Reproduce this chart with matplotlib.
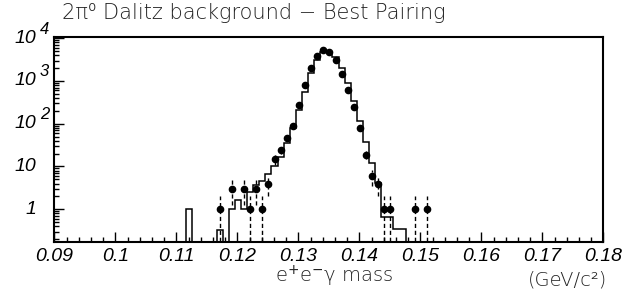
import numpy as np
import matplotlib
matplotlib.use("Agg")
import matplotlib.pyplot as plt
import matplotlib.transforms as mtransforms
from matplotlib.ticker import MultipleLocator, FixedLocator, FixedFormatter, LogLocator, NullFormatter

# --- data (bin index n -> bin centred near n/1000 GeV/c^2) ---
bin_width = 0.001
bin_offset = 0.0001

# MC histogram (solid line)
hist_bins = [112, 117, 119, 120, 121, 122, 123, 124, 125, 126, 127, 128, 129,
             130, 131, 132, 133, 134, 135, 136, 137, 138, 139, 140, 141, 142,
             143, 144, 145, 146, 147]
hist_vals = [1.0, 0.33, 1.0, 1.67, 1.0, 2.6, 3.6, 4.7, 6.5, 10.5, 17, 35, 80,
             210, 560, 1500, 3100, 4700, 4800, 3600, 2000, 910, 340, 113, 38, 12,
             4.1, 0.66, 0.66, 0.34, 0.34]

# data points (dots with dashed error bars)
data_bins = [117, 119, 121, 122, 123, 124, 125, 126, 127, 128, 129, 130, 131,
             132, 133, 134, 135, 136, 137, 138, 139, 140, 141, 142, 143, 144,
             145, 149, 151]
data_vals = [1, 3, 3, 1, 3, 1, 4, 15, 24, 46, 90, 267, 810,
             2000, 3800, 5150, 4700, 3070, 1440, 600, 240, 80, 19, 6, 4, 1,
             1, 1, 1]

xticks = [0.09, 0.10, 0.11, 0.12, 0.13, 0.14, 0.15, 0.16, 0.17, 0.18]
xticklabels = ['0.09', '0.1', '0.11', '0.12', '0.13', '0.14', '0.15', '0.16', '0.17', '0.18']
yticks = [1, 10, 100, 1000, 10000]
ytick_base = ['1', '10', '10', '10', '10']
ytick_exp = ['', '', '2', '3', '4']

# --- figure ---
fig = plt.figure(figsize=(6.31, 2.89), dpi=100)
ax = fig.add_axes([0.0861, 0.1616, 0.8700, 0.7105])
ax.set_yscale('log')

# full histogram array on 0.09..0.18
n_all = np.arange(89, 181)
edges = np.append(n_all / 1000 + bin_offset - bin_width / 2,
                  n_all[-1] / 1000 + bin_offset + bin_width / 2)
full = np.full(len(n_all), 1e-3)
for n, v in zip(hist_bins, hist_vals):
    full[n - n_all[0]] = v
ax.stairs(full, edges, baseline=1e-3, color='black', linewidth=1.1)

# data points
xd = np.array(data_bins) / 1000 + bin_offset
yd = np.array(data_vals, dtype=float)
err = np.sqrt(yd)
lo = np.minimum(err, yd - 1e-3)
eb = ax.errorbar(xd, yd, yerr=[lo, err], fmt='o', color='black', ms=4.5,
                 elinewidth=1.0, capsize=0, zorder=5)
eb[2][0].set_linestyle((0, (3, 2)))

ax.set_xlim(0.09, 0.18)
ax.set_ylim(0.169, 10660)

ax.xaxis.set_major_locator(FixedLocator(xticks))
ax.xaxis.set_major_formatter(FixedFormatter(xticklabels))
ax.xaxis.set_minor_locator(MultipleLocator(0.002))
ax.yaxis.set_major_locator(FixedLocator(yticks))
ax.yaxis.set_major_formatter(NullFormatter())
ax.yaxis.set_minor_locator(LogLocator(base=10, subs=np.arange(2, 10)))
ax.yaxis.set_minor_formatter(NullFormatter())

ax.tick_params(which='both', direction='in', top=False, right=False, width=1.0)
ax.tick_params(which='major', length=7)
ax.tick_params(which='minor', length=3.6)
ax.tick_params(axis='x', pad=4)
for lab in ax.get_xticklabels():
    lab.set_fontfamily('Liberation Sans')
    lab.set_fontstyle('italic')
    lab.set_fontsize(14)

# y tick labels: italic "10" with raised exponent
ytrans = ax.get_yaxis_transform()
sup_trans = mtransforms.offset_copy(ytrans, fig=fig, y=6.5, units='points')
for yv, base, ex in zip(yticks, ytick_base, ytick_exp):
    ax.text(-0.033, yv, base, transform=ytrans, ha='right', va='center',
            family='Liberation Sans', style='italic', fontsize=14)
    if ex:
        ax.text(-0.026, yv, ex, transform=sup_trans, ha='left', va='center',
                family='Liberation Sans', style='italic', fontsize=12)

for sp in ax.spines.values():
    sp.set_linewidth(1.5)

title_font = ['DejaVu Sans']
fig.text(0.098, 0.99, '2π⁰ Dalitz background − Best Pairing', ha='left', va='top',
         fontsize=15, family=title_font, fontweight=200, color='#222222')
fig.text(0.53, 0.0, r'e$^{+}$e$^{-}$γ mass', ha='center', va='bottom',
         fontsize=14, family=title_font, fontweight=200, color='#222222')
fig.text(0.962, 0.0, '(GeV/c²)', ha='right', va='bottom',
         fontsize=14, family=title_font, fontweight=200, color='#222222')

fig.savefig('out.png', dpi=100)
